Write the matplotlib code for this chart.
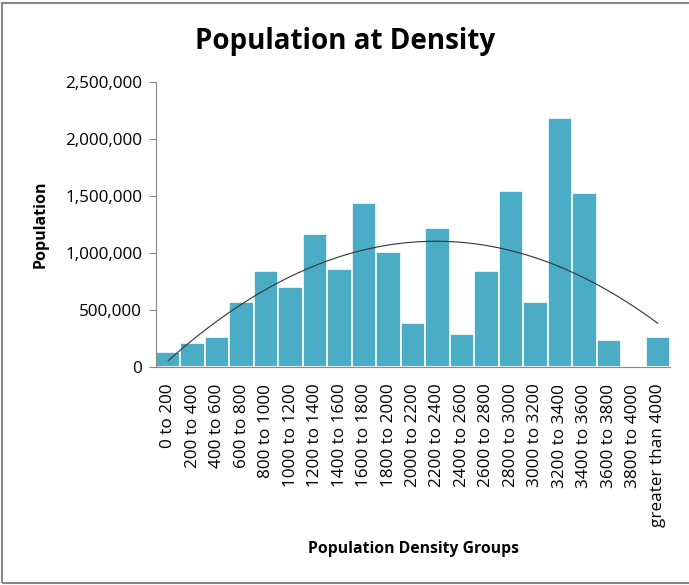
import numpy as np
import matplotlib
matplotlib.use("Agg")
from matplotlib import pyplot as plt
from matplotlib.patches import Rectangle
from matplotlib.ticker import FuncFormatter

# density groups and population in each
groups = ["0 to 200", "200 to 400", "400 to 600", "600 to 800", "800 to 1000",
          "1000 to 1200", "1200 to 1400", "1400 to 1600", "1600 to 1800",
          "1800 to 2000", "2000 to 2200", "2200 to 2400", "2400 to 2600",
          "2600 to 2800", "2800 to 3000", "3000 to 3200", "3200 to 3400",
          "3400 to 3600", "3600 to 3800", "3800 to 4000", "greater than 4000"]
population = [132000, 213000, 260000, 573000, 842000, 704000, 1167000, 860000,
              1436000, 1009000, 389000, 1222000, 287000, 842000, 1544000,
              573000, 2187000, 1524000, 237000, 0, 260000]
y_ticks = [0, 500000, 1000000, 1500000, 2000000, 2500000]

plt.rcParams['font.family'] = ['Open Sans', 'DejaVu Sans']

fig = plt.figure(figsize=(6.89, 5.85), dpi=100)
ax = fig.add_axes([156 / 689, 1 - 367 / 585, 514 / 689, 285 / 585])

x = np.arange(1, len(groups) + 1)
pop = np.array(population, dtype=float)
ax.bar(x, pop, width=1.0, color="#4BACC6", edgecolor="white", linewidth=1.2, zorder=2)

# polynomial (order 2) trendline, as Excel does
coef = np.polyfit(x, pop, 2)
xs = np.linspace(1, len(groups), 200)
ax.plot(xs, np.polyval(coef, xs), color="#333333", linewidth=0.8, zorder=3)

ax.set_xlim(0.5, len(groups) + 0.5)
ax.set_ylim(0, 2500000)
ax.set_yticks(y_ticks)
ax.yaxis.set_major_formatter(FuncFormatter(lambda v, p: f"{int(v):,}"))
ax.set_xticks(x)
ax.set_xticklabels(groups, rotation=90, fontsize=12.3)
ax.tick_params(axis='y', labelsize=12.3, length=5, color="#888888", pad=5)
ax.tick_params(axis='x', length=0, pad=12)

for s in ["top", "right"]:
    ax.spines[s].set_visible(False)
for s in ["left", "bottom"]:
    ax.spines[s].set_color("#888888")

ax.set_ylabel("Population", fontsize=11.5, fontweight="bold", labelpad=12)
fig.text(0.5 * (156 + 670) / 689, 1 - 549 / 585, "Population Density Groups",
         ha="center", va="center", fontsize=11.3, fontweight="bold")
fig.text(345 / 689, 1 - 42 / 585, "Population at Density", ha="center", va="center",
         fontsize=20, fontweight="bold")

# chart border
fig.patches.append(Rectangle((1.5 / 689, 2 / 585), 1.0, 580 / 585,
                             transform=fig.transFigure, fill=False,
                             edgecolor="#888888", linewidth=1.5))

plt.savefig("out.png", dpi=100)
plt.close("all")
